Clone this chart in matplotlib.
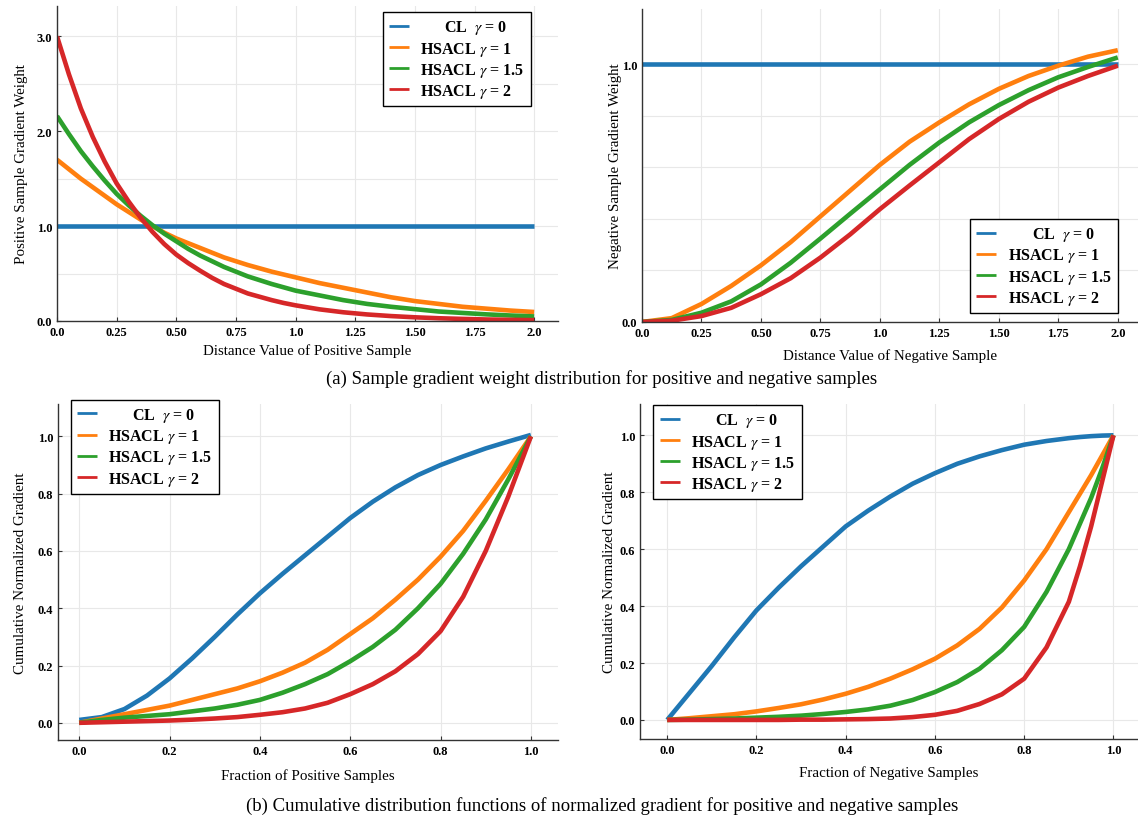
import numpy as np
import matplotlib
matplotlib.use("Agg")
import matplotlib.pyplot as plt
from matplotlib.ticker import FixedLocator

plt.rcParams['font.family'] = ['Liberation Serif', 'DejaVu Serif']
plt.rcParams['mathtext.fontset'] = 'stix'

# ---- data ----
labels = ['      CL  $\\gamma$ = 0', 'HSACL $\\gamma$ = 1', 'HSACL $\\gamma$ = 1.5', 'HSACL $\\gamma$ = 2']
colors = ['#1f77b4', '#ff7f0e', '#2ca02c', '#d62728']

# (a) left: positive sample gradient weight
pos_dist = [0.0, 0.05, 0.1, 0.15, 0.2, 0.25, 0.3, 0.35, 0.4, 0.45, 0.5,
            0.55, 0.6, 0.65, 0.7, 0.75, 0.8, 0.85, 0.9, 0.95, 1.0,
            1.1, 1.2, 1.3, 1.4, 1.5, 1.6, 1.7, 1.8, 1.9, 2.0]
pos_cl = [1.0] * 31
pos_g1 = [1.70, 1.60, 1.50, 1.41, 1.32, 1.23, 1.15, 1.07, 1.00, 0.93, 0.87,
          0.82, 0.77, 0.72, 0.67, 0.63, 0.59, 0.555, 0.52, 0.49, 0.46,
          0.40, 0.35, 0.30, 0.25, 0.21, 0.18, 0.15, 0.13, 0.11, 0.095]
pos_g15 = [2.16, 1.97, 1.79, 1.63, 1.48, 1.34, 1.22, 1.11, 1.01, 0.92, 0.84,
           0.76, 0.69, 0.63, 0.57, 0.52, 0.47, 0.43, 0.39, 0.355, 0.32,
           0.27, 0.22, 0.18, 0.15, 0.125, 0.10, 0.085, 0.07, 0.058, 0.048]
pos_g2 = [3.00, 2.60, 2.24, 1.94, 1.68, 1.45, 1.26, 1.09, 0.94, 0.81, 0.70,
          0.61, 0.53, 0.455, 0.39, 0.34, 0.29, 0.255, 0.22, 0.19, 0.165,
          0.123, 0.092, 0.069, 0.052, 0.039, 0.029, 0.022, 0.016, 0.012, 0.009]

# (a) right: negative sample gradient weight
neg_dist = [0.0, 0.125, 0.25, 0.375, 0.5, 0.625, 0.75, 0.875, 1.0,
            1.125, 1.25, 1.375, 1.5, 1.625, 1.75, 1.875, 2.0]
neg_cl = [1.0] * 17
neg_g1 = [0.0, 0.015, 0.07, 0.14, 0.22, 0.31, 0.41, 0.51, 0.61,
          0.70, 0.775, 0.845, 0.905, 0.955, 0.995, 1.03, 1.055]
neg_g15 = [0.0, 0.008, 0.036, 0.08, 0.146, 0.23, 0.324, 0.42, 0.515,
           0.61, 0.697, 0.775, 0.842, 0.90, 0.95, 0.99, 1.027]
neg_g2 = [0.0, 0.005, 0.023, 0.055, 0.108, 0.17, 0.25, 0.34, 0.438,
          0.53, 0.62, 0.71, 0.788, 0.855, 0.91, 0.955, 0.995]

# (b) left: CDF positive
cdf_pos_x = [0.0, 0.05, 0.1, 0.15, 0.2, 0.25, 0.3, 0.35, 0.4, 0.45, 0.5,
             0.55, 0.6, 0.65, 0.7, 0.75, 0.8, 0.85, 0.9, 0.95, 1.0]
cdf_pos_cl = [0.01, 0.02, 0.048, 0.095, 0.155, 0.225, 0.30, 0.378, 0.452, 0.52, 0.585,
              0.65, 0.715, 0.772, 0.822, 0.865, 0.90, 0.93, 0.958, 0.982, 1.005]
cdf_pos_g1 = [0.0, 0.015, 0.03, 0.045, 0.06, 0.08, 0.10, 0.12, 0.145, 0.175, 0.21,
              0.255, 0.31, 0.365, 0.43, 0.50, 0.58, 0.67, 0.775, 0.885, 1.0]
cdf_pos_g15 = [0.0, 0.01, 0.018, 0.024, 0.03, 0.04, 0.05, 0.063, 0.08, 0.105, 0.135,
               0.17, 0.215, 0.265, 0.325, 0.40, 0.485, 0.59, 0.71, 0.85, 1.0]
cdf_pos_g2 = [0.0, 0.002, 0.004, 0.006, 0.008, 0.011, 0.015, 0.02, 0.028, 0.037, 0.05,
              0.07, 0.10, 0.135, 0.18, 0.24, 0.32, 0.44, 0.60, 0.79, 1.0]

# (b) right: CDF negative
cdf_neg_x = [0.0, 0.05, 0.1, 0.15, 0.2, 0.25, 0.3, 0.35, 0.4, 0.45, 0.5,
             0.55, 0.6, 0.65, 0.7, 0.75, 0.8, 0.85, 0.9, 0.925, 0.95, 0.975, 1.0]
cdf_neg_cl = [0.0, 0.095, 0.19, 0.29, 0.385, 0.465, 0.54, 0.61, 0.68, 0.735, 0.785,
              0.83, 0.867, 0.90, 0.926, 0.948, 0.967, 0.98, 0.99, 0.994, 0.997, 0.999, 1.0]
cdf_neg_g1 = [0.0, 0.006, 0.013, 0.02, 0.03, 0.042, 0.055, 0.072, 0.092, 0.116, 0.145,
              0.178, 0.215, 0.262, 0.32, 0.395, 0.49, 0.60, 0.73, 0.795, 0.86, 0.93, 1.0]
cdf_neg_g15 = [0.0, 0.001, 0.003, 0.005, 0.008, 0.011, 0.015, 0.021, 0.028, 0.037, 0.05,
               0.07, 0.098, 0.133, 0.18, 0.245, 0.327, 0.45, 0.60, 0.69, 0.78, 0.885, 1.0]
cdf_neg_g2 = [0.0, 0.0, 0.0, 0.0, 0.0, 0.0, 0.001, 0.001, 0.002, 0.003, 0.005,
              0.01, 0.018, 0.032, 0.056, 0.09, 0.145, 0.255, 0.415, 0.54, 0.68, 0.84, 1.0]

W, H = 1138, 820
fig = plt.figure(figsize=(W / 100, H / 100), dpi=100)


def px_axes(left, top, right, bottom):
    return fig.add_axes([left / W, 1 - bottom / H, (right - left) / W, (bottom - top) / H])


def style(ax):
    for s in ['top', 'right']:
        ax.spines[s].set_visible(False)
    for s in ['left', 'bottom']:
        ax.spines[s].set_color('#333333')
        ax.spines[s].set_linewidth(1.0)
    ax.tick_params(which='major', direction='in', length=3, width=0.8, colors='#333333',
                   labelsize=9, labelcolor='black')
    ax.tick_params(which='minor', length=0)
    for t in ax.get_xticklabels() + ax.get_yticklabels():
        t.set_fontweight('bold')
    ax.grid(True, which='both', color='#e8e8e8', linewidth=0.8)
    ax.set_axisbelow(True)


def legend(ax, loc, anchor):
    leg = ax.legend(loc=loc, bbox_to_anchor=anchor, fontsize=11.5, fancybox=False,
                    edgecolor='black', framealpha=1, handlelength=1.25, handletextpad=0.7,
                    labelspacing=0.2, borderpad=0.4, borderaxespad=0)
    leg.get_frame().set_linewidth(1.0)
    for line in leg.get_lines():
        line.set_linewidth(2)
    for t in leg.get_texts():
        t.set_fontweight('bold')


lw = 3.3
x_quarter = [0, 0.25, 0.5, 0.75, 1.0, 1.25, 1.5, 1.75, 2.0]
x_quarter_lbl = ['0.0', '0.25', '0.50', '0.75', '1.0', '1.25', '1.50', '1.75', '2.0']

# top-left
ax1 = px_axes(57, 7, 558, 322)
for ys, c, lab in zip([pos_cl, pos_g1, pos_g15, pos_g2], colors, labels):
    ax1.plot(pos_dist, ys, color=c, lw=lw, label=lab, solid_capstyle='butt')
ax1.set_xlim(0, 2.10)
ax1.set_ylim(0, 3.32)
ax1.set_xticks(x_quarter)
ax1.set_xticklabels(x_quarter_lbl)
ax1.set_yticks([0, 1, 2, 3])
ax1.set_yticklabels(['0.0', '1.0', '2.0', '3.0'])
ax1.yaxis.set_minor_locator(FixedLocator([0.5, 1.5, 2.5]))
style(ax1)
ax1.set_xlabel('Distance Value of Positive Sample', fontsize=10.8, labelpad=4)
ax1.set_ylabel('Positive Sample Gradient Weight', fontsize=10.8, labelpad=6)
legend(ax1, 'upper right', (0.946, 0.981))

# top-right
ax2 = px_axes(642, 10, 1138, 323)
for ys, c, lab in zip([neg_cl, neg_g1, neg_g15, neg_g2], colors, labels):
    ax2.plot(neg_dist, ys, color=c, lw=lw, label=lab, solid_capstyle='butt')
ax2.set_xlim(0, 2.085)
ax2.set_ylim(0, 1.215)
ax2.set_xticks(x_quarter)
ax2.set_xticklabels(x_quarter_lbl)
ax2.set_yticks([0, 1])
ax2.set_yticklabels(['0.0', '1.0'])
ax2.yaxis.set_minor_locator(FixedLocator([0.2, 0.4, 0.6, 0.8]))
style(ax2)
ax2.set_xlabel('Distance Value of Negative Sample', fontsize=10.8, labelpad=7)
ax2.set_ylabel('Negative Sample Gradient Weight', fontsize=10.8, labelpad=0)
legend(ax2, 'lower right', (0.96, 0.028))

# bottom-left
ax3 = px_axes(58, 405, 558, 741)
for ys, c, lab in zip([cdf_pos_cl, cdf_pos_g1, cdf_pos_g15, cdf_pos_g2], colors, labels):
    ax3.plot(cdf_pos_x, ys, color=c, lw=lw, label=lab, solid_capstyle='butt')
ax3.set_xlim(-0.047, 1.06)
ax3.set_ylim(-0.06, 1.113)
ticks = [0, 0.2, 0.4, 0.6, 0.8, 1.0]
tick_lbl = ['0.0', '0.2', '0.4', '0.6', '0.8', '1.0']
ax3.set_xticks(ticks)
ax3.set_xticklabels(tick_lbl)
ax3.set_yticks(ticks)
ax3.set_yticklabels(tick_lbl)
style(ax3)
ax3.set_xlabel('Fraction of Positive Samples', fontsize=10.8, labelpad=8.5)
ax3.set_ylabel('Cumulative Normalized Gradient', fontsize=10.8, labelpad=8)
legend(ax3, 'upper left', (0.025, 1.013))

# bottom-right
ax4 = px_axes(640, 405, 1138, 740)
for ys, c, lab in zip([cdf_neg_cl, cdf_neg_g1, cdf_neg_g15, cdf_neg_g2], colors, labels):
    ax4.plot(cdf_neg_x, ys, color=c, lw=lw, label=lab, solid_capstyle='butt')
ax4.set_xlim(-0.061, 1.055)
ax4.set_ylim(-0.067, 1.11)
ax4.set_xticks(ticks)
ax4.set_xticklabels(tick_lbl)
ax4.set_yticks(ticks)
ax4.set_yticklabels(tick_lbl)
style(ax4)
ax4.set_xlabel('Fraction of Negative Samples', fontsize=10.8, labelpad=7)
ax4.set_ylabel('Cumulative Normalized Gradient', fontsize=10.8, labelpad=2.5)
legend(ax4, 'upper left', (0.027, 0.997))

fig.text(602 / W, 1 - 379 / H, '(a) Sample gradient weight distribution for positive and negative samples',
         ha='center', va='center', fontsize=13.5)
fig.text(602 / W, 1 - 806 / H,
         '(b) Cumulative distribution functions of normalized gradient for positive and negative samples',
         ha='center', va='center', fontsize=13.5)

fig.savefig('out.png', dpi=100)
